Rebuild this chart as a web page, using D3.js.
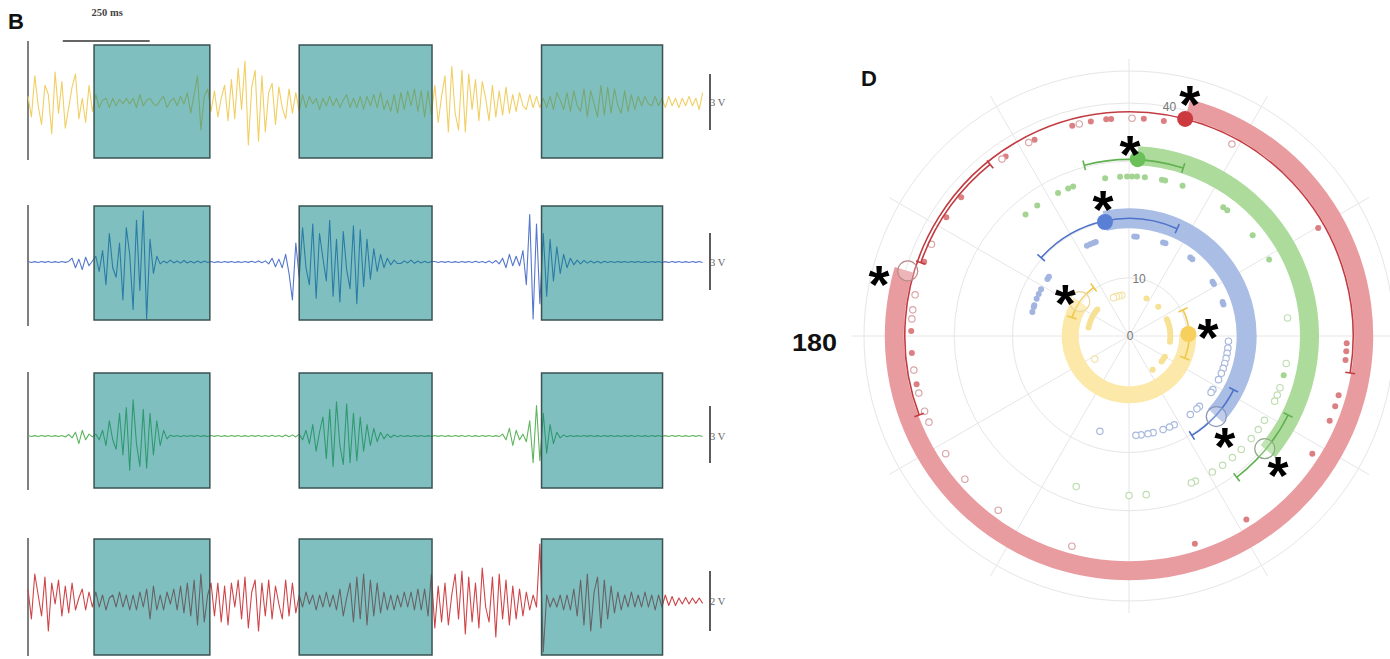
<!DOCTYPE html>
<html><head><meta charset="utf-8">
<script src="https://cdn.jsdelivr.net/npm/d3@7"></script>
<style>body{margin:0;background:#fff;} svg{display:block;}</style>
</head><body>
<svg id="chart" width="1390" height="659"></svg>
<script>
// ================= DATA =================
// ---- Panel B: EMG traces (values in 0.1 V, one sample every 9.75 ms) ----
const sampleStepMs = 9.75;
const traceDurationMs = 1950;
const stimWindowsMs = [[190, 523], [780, 1162], [1477, 1825]];
const timeBarMs = [100, 350];          // "250 ms"
const timeBarLabel = "250 ms";

const yellowTrace = [
 3,-8,14,-2,-12,9,4,-17,16,-6,
 11,-14,-3,8,15,-9,2,-11,9,-5,
 4,-3,1,2,-3,2,-2,1.5,-1,2,
 -1,2,-3,4,-2,1,2,-1,-2,1,
 3,-3,0.5,2,-2,3,-1,5,-6,4,
 14,-15,3,7,-5,6,-8,2,9,-10,
 12,-9,18,-4,22,-23,8,17,-21,14,
 -16,5,10,-12,8,-3,-9,7,-6,5,
 -5,4,-3,3,-1,2,-4,2,-2,3,
 -2,2,-3,1,4,-3,2,-3,3,-4,
 3,-2,4,-3,5,-4,1,-5,4,-6,
 5,-4,6,-2,7,-5,6,-8,6,-7,
 9,-11,3,14,-16,19,-6,-15,17,-16,
 15,-4,12,-10,11,2,-10,9,-8,6,
 -7,8,-6,4,-5,5,-2,-4,4,-3,
 3,-3,2,-3,3,-4,5,1,-4,5,
 -5,6,-2,-5,7,-8,6,-1,-8,9,
 -7,8,-6,7,-2,-6,6,-5,4,-4,
 3,-2,3,-1,-2,3,-2,2,-3,3,
 -2,2,-3,2,-2,3,-2,2,-4,5];

const blueTrace = [
 0.3,-0.3,0.2,-0.3,0.3,-0.2,0.3,-0.3,0.2,-0.3,
 0.3,-0.2,0.3,2,-3,1.5,-4,2.5,-2,0.5,
 3,-5,6,-12,15,-3,-8,10,-20,18,
 4,-25,22,-15,27,-30,12,-6,3,-1,
 0.5,-0.5,1,-0.5,0.5,-0.6,0.8,-0.5,0.4,-0.5,
 0.5,-0.4,0.5,-0.3,0.3,-0.3,0.2,-0.3,0.3,-0.2,
 0.3,-0.3,0.2,-0.3,0.3,-0.2,0.4,-0.3,0.5,-0.4,
 0.6,-1,2,-2.5,1.5,-3,4,-6,-20,10,
 -8,18,-3,-12,20,-19,15,2,-10,22,
 -18,12,-21,16,-4,-14,19,-22,17,-13,
 12,-9,7,-5,4,-3,2,-1.5,1,-0.8,
 -0.8,0.6,-0.5,1,-0.7,0.5,-0.5,0.4,-0.4,0.3,
 0.3,-0.3,0.3,-0.2,0.3,-0.3,0.2,-0.3,0.3,-0.2,
 0.3,-0.3,0.4,-0.3,0.3,-0.4,0.5,-0.6,0.8,-1,
 2,-3,4,-2,3,-2,6,-12,25,-30,
 20,-22,15,-18,12,-10,8,-6,4,-3,
 2,-1.5,1,-1,0.8,-0.6,0.5,-0.5,0.4,-0.5,
 0.4,-0.3,0.3,-0.3,0.3,-0.2,0.3,-0.3,0.3,-0.2,
 0.3,-0.3,0.2,-0.3,0.3,-0.2,0.3,-0.3,0.2,-0.3,
 0.3,-0.2,0.3,-0.3,0.2,-0.3,0.3,-0.2,0.3,-0.3];

const greenTrace = [
 0.3,-0.3,0.2,-0.3,0.3,-0.2,0.3,-0.3,0.2,-0.3,
 0.3,-0.5,0.8,-1,2,-4,3,-2,1,-0.5,
 1,-2,3,-5,8,-2,-7,12,-10,15,
 -18,19,-4,-16,14,-17,12,-10,8,-5,
 3,-1.5,0.4,-0.3,0.3,-0.4,0.3,-0.3,0.3,-0.2,
 0.3,-0.3,0.2,-0.3,0.3,-0.2,0.3,-0.3,0.2,-0.3,
 0.3,-0.2,0.3,-0.3,0.2,-0.3,0.3,-0.2,0.3,-0.3,
 0.3,-0.3,0.4,-0.3,0.3,-0.4,0.5,-0.4,0.6,-0.5,
 1,-2,3,-4,6,-8,2,10,-12,14,
 -16,18,-5,-15,17,-14,12,-13,10,-8,
 6,-5,4,-3,2,-1.5,1,-0.8,0.5,-0.4,
 0.3,-0.3,0.2,-0.3,0.3,-0.2,0.3,-0.3,0.2,-0.3,
 0.3,-0.2,0.3,-0.3,0.2,-0.3,0.3,-0.2,0.3,-0.3,
 0.3,-0.3,0.2,-0.3,0.3,-0.2,0.3,-0.3,0.2,-0.3,
 1,-2,4,-5,3,-2,1,-3,8,-14,
 16,-13,12,-9,6,-4,2,-1,0.6,-0.4,
 0.3,-0.3,0.2,-0.3,0.3,-0.2,0.3,-0.3,0.2,-0.3,
 0.3,-0.2,0.3,-0.3,0.2,-0.3,0.3,-0.2,0.3,-0.3,
 0.3,-0.3,0.2,-0.3,0.3,-0.2,0.3,-0.3,0.2,-0.3,
 0.3,-0.2,0.3,-0.3,0.2,-0.3,0.3,-0.2,0.3,-0.3];

const redTrace = [
 4,-6,9,2,-5,8,-10,6,-1,7,
 -5,5,-4,6,-3,1,4,-3,3,-2,
 3,-2,2,-3,1,2,-2,3,-2,2,
 -3,2,-3,3,-2,4,-6,5,-3,2,
 -3,3,-1,4,-3,5,-4,6,-5,7,
 -8,9,-7,2,6,-5,6,-7,5,-8,
 6,-2,7,-6,8,-9,3,7,-10,6,
 -5,7,-6,5,-1,-6,7,-5,6,-4,
 2,-2,3,-1,2,-3,2,-2,3,-2,
 2,-3,4,-5,1,6,-7,8,-6,9,
 -8,7,-5,6,-4,3,-3,2,-3,2,
 -2,3,-2,3,-3,4,-3,4,-5,9,
 -9,5,-7,6,-8,2,9,-6,10,-11,
 8,-7,6,-9,11,-2,-7,8,-12,9,
 -6,7,-8,5,-6,4,-5,3,-3,2,
 -2,19,-17,2,-2,1,-2,2,-3,2,
 -3,4,-5,7,-8,9,-10,3,8,-9,
 7,-6,5,-4,3,-3,2,-2,3,-2,
 2,-2,3,-2,2,-3,2,-2,2,-1.5,
 1.5,-1.5,1,-1,1.2,-1,1,-0.8,1,-0.8];

const barVolts = [3, 3, 3, 2];
const barLabels = ["3 V", "3 V", "3 V", "2 V"];

// ---- Panel D: polar plot (angles in degrees, radius in plot units) ----
const radialMax = 45.5;
const radialGrid = [10, 20, 30, 40];
const radialTickLabels = [0, 10, 40];
const angularGrid = [0, 30, 60, 90, 120, 150, 180, 210, 240, 270, 300, 330];

const redScatterR = 37.4;
const redFilledDeg = [105.1,100.1,96,94.7,86.1,80.8,115.7,124.5,140.4,147,160.1,178.7,184.5,192.8,29.7,-1.9,-4,-6.3,-15.8,-18.8,-22.9,-32.7,-57.4,-72.4];
const redOpenDeg = [103.2,89.2,117.4,125.7,155.1,169.1,173.1,175.5,189,195.2,200.2,203.3,212.7,221.1,233.1,254.8,61.8];
const redBand = [75.5, -196.4, 40.3];           // from, to (clockwise), radius
const redMeanFilled = [75.5, 38.5];
const redMeanOpen = [163.6, 39.6];
const redCI = [[38.5, -9.5, 200.6], [37.9, 129, 160.6]];

const greenScatterR = 27.4;
const greenFilledDeg = [130.4,125.1,116.4,112.4,110.5,98.6,93.2,90.7,88.9,87.1,84.3,78.1,76.9,70.4,53.8,52,39.2,28.6,-14.2];
const greenOpenDeg = [6.5,-9.9,-18.9,-21.7,-24.1,-31.9,-35.9,-40,-45.3,-49.6,-54.1,-58.5,-65.4,-67,250.7,270,-83.8];
const greenBand = [87.2, -39.7, 31.0];
const greenMeanFilled = [87.2, 30.4];
const greenMeanOpen = [-39.7, 30.3];
const greenCI = [[30.3, 72.1, 104.7], [30.5, -52.7, -26.4]];

const blueScatterR = 17.1;
const blueFilledDeg = [166,163,162,158,155,152,145,143.5,115,113,111,109.5,87,85.5,70,68.5,52,50.5,33,31.5,20,18.5];
const blueOpenDeg = [-3,-7,-10,-13,-16,-19,-22,-26,-32.6,-34.5,-45,-47,-52,-63,-66,-70,-76,-79,-83,-86,-107];
const blueBand = [101.9, -42.7, 20.2];
const blueMeanFilled = [101.9, 20.0];
const blueMeanOpen = [-42.7, 20.4];
const blueCI = [[20.2, 65.8, 138.3], [20.2, -57.7, -27.2]];

const yellowScatterR = 7.1;
const yellowFilledDeg = [65,45,24,20,16,12,8,4,0,-4,-8,-30,-34,-38,-55,140,144,148,153,158,163,168];
const yellowOpenDeg = [100,104,108,112,214];
const yellowBand = [1.9, -215, 10.1];
const yellowMeanFilled = [1.9, 10.2];
const yellowMeanOpen = [145, 10.3];
const yellowCI = [[10.3, -21.7, 25.8], [10.3, 126, 162]];

const asteriskPositions = [[76,43.1],[165.6,44.3],[89.7,33.3],[-40.4,33.6],[100.6,24.3],[-45.6,23.5],[144.9,13.4],[7.9,13.7]];

// ================= DRAWING =================
const svg = d3.select("#chart");

// ---------- Panel B ----------
const x = d3.scaleLinear().domain([0, traceDurationMs]).range([28, 706]);
const rows = [
  {values: yellowTrace, color: "#f1cf63", base: 102, axis: [41, 160], box: [45, 158], bar: [74, 130]},
  {values: blueTrace,   color: "#5577cc", base: 262, axis: [205, 326], box: [206, 320], bar: [233, 290]},
  {values: greenTrace,  color: "#5fb45f", base: 436, axis: [372, 490], box: [373, 488], bar: [406, 463]},
  {values: redTrace,    color: "#cf4448", base: 601, axis: [538, 656], box: [539, 655], bar: [571, 631]}
];

svg.append("text").attr("x", 8).attr("y", 29).text("B")
  .attr("font-family", "Liberation Sans, Arial, sans-serif").attr("font-weight", "bold").attr("font-size", 22).attr("fill", "#111");

svg.append("line").attr("x1", x(timeBarMs[0])).attr("x2", x(timeBarMs[1])).attr("y1", 41).attr("y2", 41)
  .attr("stroke", "#333").attr("stroke-width", 1.5);
svg.append("text").attr("x", (x(timeBarMs[0]) + x(timeBarMs[1])) / 2 + 1).attr("y", 16).attr("text-anchor", "middle")
  .text(timeBarLabel).attr("font-family", "Liberation Serif, Times New Roman, serif").attr("font-weight", "bold")
  .attr("font-size", 10.5).attr("fill", "#444");

rows.forEach((row, k) => {
  const h = row.bar[1] - row.bar[0];
  const half = barVolts[k] * 10 / 2;
  const y = d3.scaleLinear().domain([-half, half]).range([row.base + h / 2, row.base - h / 2]);
  const g = svg.append("g");
  g.append("line").attr("x1", 28).attr("x2", 28).attr("y1", row.axis[0]).attr("y2", row.axis[1])
    .attr("stroke", "#555").attr("stroke-width", 1.5);
  const line = d3.line().x((d, i) => x(i * sampleStepMs)).y(d => y(d));
  g.append("path").datum(row.values).attr("d", line).attr("fill", "none")
    .attr("stroke", row.color).attr("stroke-width", 1.1).attr("stroke-linejoin", "round");
  g.selectAll("rect.win").data(stimWindowsMs).join("rect").attr("class", "win")
    .attr("x", d => x(d[0])).attr("width", d => x(d[1]) - x(d[0]))
    .attr("y", row.box[0]).attr("height", row.box[1] - row.box[0])
    .attr("fill", "#008080").attr("fill-opacity", 0.5)
    .attr("stroke", "#3a5252").attr("stroke-width", 1.5);
  g.append("line").attr("x1", 710).attr("x2", 710).attr("y1", row.bar[0]).attr("y2", row.bar[1])
    .attr("stroke", "#333").attr("stroke-width", 1.6);
  g.append("text").attr("x", 710).attr("y", row.base + 4).text(barLabels[k])
    .attr("font-family", "Liberation Serif, Times New Roman, serif").attr("font-size", 10.5).attr("fill", "#666");
});

// ---------- Panel D ----------
const cx = 1129, cy = 336;
const rScale = d3.scaleLinear().domain([0, radialMax]).range([0, 265]);
const toRad = d => d * Math.PI / 180;
const polar = (deg, r) => [cx + rScale(r) * Math.cos(toRad(deg)), cy - rScale(r) * Math.sin(toRad(deg))];
const polarPx = (deg, rp) => [cx + rp * Math.cos(toRad(deg)), cy - rp * Math.sin(toRad(deg))];

const pg = svg.append("g");
const gridColor = "#e6e6e6";
radialGrid.concat([radialMax]).forEach(r => {
  pg.append("circle").attr("cx", cx).attr("cy", cy).attr("r", rScale(r))
    .attr("fill", "none").attr("stroke", gridColor).attr("stroke-width", 1);
});
angularGrid.forEach(a => {
  const [x1, y1] = polar(a, radialMax);
  pg.append("line").attr("x1", cx).attr("y1", cy).attr("x2", x1).attr("y2", y1)
    .attr("stroke", gridColor).attr("stroke-width", 1);
  const [x2, y2] = polarPx(a, rScale(radialMax) + 12);
  pg.append("line").attr("x1", x1).attr("y1", y1).attr("x2", x2).attr("y2", y2)
    .attr("stroke", gridColor).attr("stroke-width", 1);
});
radialTickLabels.forEach(v => {
  const [tx, ty] = v === 0 ? [cx + 1, cy] : polar(80, v);
  pg.append("text").attr("x", tx).attr("y", ty + 4).attr("text-anchor", "middle").text(v)
    .attr("font-family", "Liberation Sans, Arial, sans-serif").attr("font-size", 12).attr("fill", "#777");
});

const groups = [
  {band: redBand, bandW: 19, scatterR: redScatterR, filled: redFilledDeg, open: redOpenDeg, mF: redMeanFilled, mO: redMeanOpen, ci: redCI,
   c: {band: "#e99ca0", line: "#c23b40", dot: "#cc3a40", sf: "#dc7f83", so: "#d9a6a8", ring: "#b98a8b"}},
  {band: greenBand, bandW: 19, scatterR: greenScatterR, filled: greenFilledDeg, open: greenOpenDeg, mF: greenMeanFilled, mO: greenMeanOpen, ci: greenCI,
   c: {band: "#addb9c", line: "#5fb24f", dot: "#6cc05a", sf: "#a3d492", so: "#c0ddb2", ring: "#8fab86"}},
  {band: blueBand, bandW: 20, scatterR: blueScatterR, filled: blueFilledDeg, open: blueOpenDeg, mF: blueMeanFilled, mO: blueMeanOpen, ci: blueCI,
   c: {band: "#aabde5", line: "#4d72c9", dot: "#5a80d6", sf: "#a2b4e0", so: "#a9b8de", ring: "#8696bb"}},
  {band: yellowBand, bandW: 17, scatterR: yellowScatterR, filled: yellowFilledDeg, open: yellowOpenDeg, mF: yellowMeanFilled, mO: yellowMeanOpen, ci: yellowCI,
   c: {band: "#fce8a8", line: "#f0c84a", dot: "#f7cf5c", sf: "#f7e194", so: "#f3e2aa", ring: "#e8d69a"}}
];

const bandArc = d3.arc();
function arcPath(R, d0, d1) {
  const p = d3.path();
  const [x0, y0] = polar(d0, R);
  p.moveTo(x0, y0);
  p.arc(cx, cy, rScale(R), -toRad(d0), -toRad(d1), d1 > d0);
  return p.toString();
}

groups.forEach(gr => {
  const rp = rScale(gr.band[2]);
  pg.append("path").attr("transform", `translate(${cx},${cy})`)
    .attr("d", bandArc({innerRadius: rp - gr.bandW / 2, outerRadius: rp + gr.bandW / 2,
      startAngle: toRad(90 - gr.band[0]), endAngle: toRad(90 - gr.band[1])}))
    .attr("fill", gr.c.band);
});
groups.forEach(gr => {
  gr.filled.forEach(a => {
    const [px, py] = polar(a, gr.scatterR);
    pg.append("circle").attr("cx", px).attr("cy", py).attr("r", 3).attr("fill", gr.c.sf);
  });
  gr.open.forEach(a => {
    const [px, py] = polar(a, gr.scatterR);
    pg.append("circle").attr("cx", px).attr("cy", py).attr("r", 3.2).attr("fill", "#fff")
      .attr("stroke", gr.c.so).attr("stroke-width", 1.2);
  });
});
groups.forEach(gr => {
  gr.ci.forEach(([R, d0, d1]) => {
    pg.append("path").attr("d", arcPath(R, d0, d1)).attr("fill", "none")
      .attr("stroke", gr.c.line).attr("stroke-width", 1.6);
    [d0, d1].forEach(d => {
      const rp = rScale(R);
      const [ax, ay] = polarPx(d, rp - 5), [bx, by] = polarPx(d, rp + 5);
      pg.append("line").attr("x1", ax).attr("y1", ay).attr("x2", bx).attr("y2", by)
        .attr("stroke", gr.c.line).attr("stroke-width", 1.6);
    });
  });
  const [fx, fy] = polar(gr.mF[0], gr.mF[1]);
  pg.append("circle").attr("cx", fx).attr("cy", fy).attr("r", 8).attr("fill", gr.c.dot);
  const [ox, oy] = polar(gr.mO[0], gr.mO[1]);
  pg.append("circle").attr("cx", ox).attr("cy", oy).attr("r", 10).attr("fill", "rgba(255,255,255,0.25)")
    .attr("stroke", gr.c.ring).attr("stroke-width", 1.2);
});

asteriskPositions.forEach(([a, r]) => {
  const [ax, ay] = polar(a, r);
  pg.append("text").attr("x", ax).attr("y", ay + 0.57 * 54).attr("text-anchor", "middle").text("*")
    .attr("font-family", "Liberation Sans, Arial, sans-serif").attr("font-weight", "bold")
    .attr("font-size", 54).attr("fill", "#000");
});

svg.append("text").attr("x", 861).attr("y", 86).text("D")
  .attr("font-family", "Liberation Sans, Arial, sans-serif").attr("font-weight", "bold").attr("font-size", 22).attr("fill", "#111");
svg.append("text").attr("x", 792).attr("y", 351).text("180").attr("textLength", 45).attr("lengthAdjust", "spacingAndGlyphs")
  .attr("font-family", "Liberation Sans, Arial, sans-serif").attr("font-weight", "bold").attr("font-size", 23).attr("fill", "#111");
</script>
</body></html>
